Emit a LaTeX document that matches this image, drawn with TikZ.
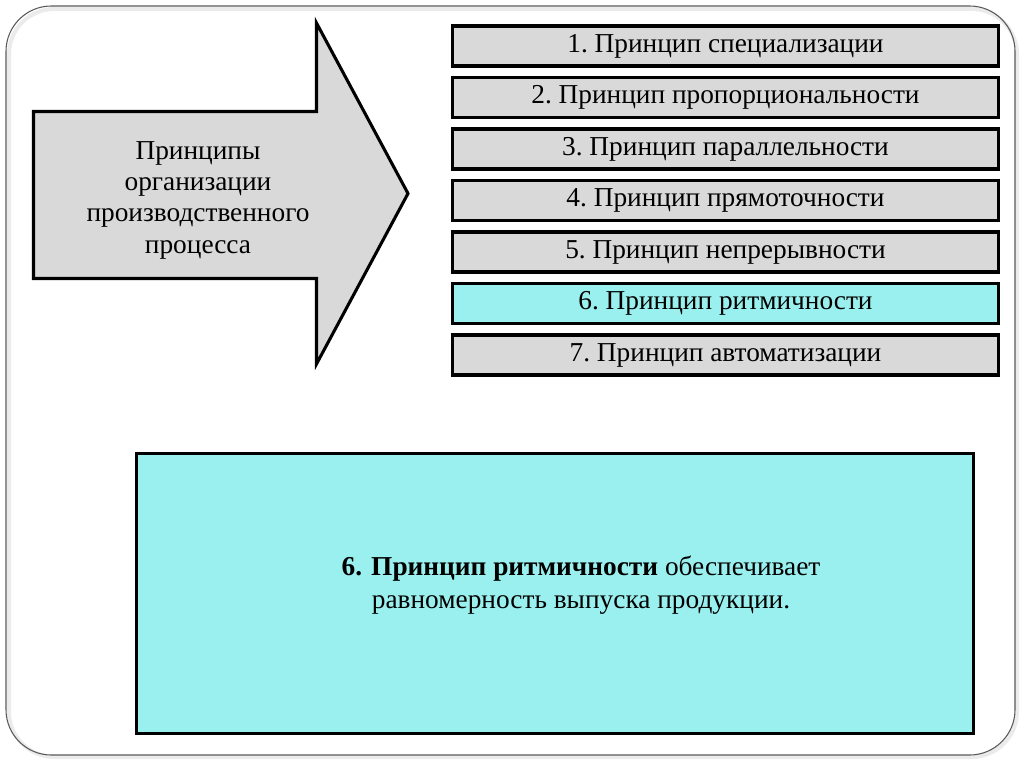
\documentclass[tikz,border=0pt]{standalone}
\usepackage{fontspec}
\setmainfont{Liberation Serif}
\usetikzlibrary{positioning}
\definecolor{boxgray}{RGB}{217,217,217}
\definecolor{boxcyan}{RGB}{154,240,238}
\tikzset{principle/.style={draw=black, line width=2.3pt, fill=boxgray, minimum width=409.5pt, minimum height=30pt, inner sep=0pt, font=\fontsize{20.5}{24}\selectfont},
%the highlighted one
current/.style={principle, fill=boxcyan}}

\begin{document}
\begin{tikzpicture}[x=0.75pt,y=-0.75pt]

\useasboundingbox (0,0) rectangle (1024,767);

% slide frame
\draw[black!8, line width=3pt, rounded corners=34pt] (9,9) rectangle (1017,757);
\draw[black!65, line width=0.8pt, rounded corners=34pt] (6,6) rectangle (1015,755);

% big arrow
\coordinate (a0) at (33.5,111.5);
\coordinate (a1) at (316.5,111.5);
\coordinate (a2) at (316.5,23);
\coordinate (a3) at (408,193.5);
\coordinate (a4) at (316.5,364);
\coordinate (a5) at (316.5,278.5);
\coordinate (a6) at (33.5,278.5);
\draw[line width=2.3pt, fill=boxgray, line join=miter] (a0) -- (a1) -- (a2) -- (a3) -- (a4) -- (a5) -- (a6) -- cycle;
\node[align=center, font=\fontsize{20.5}{23.5}\selectfont] (title) at (198,200)
  {Принципы\\организации\\производственного\\процесса};

% list of principles
\foreach \i/\txt in {1/специализации, 2/пропорциональности, 3/параллельности,
    4/прямоточности, 5/непрерывности, 7/автоматизации}
    \node[principle] (p\i) at (725.5,{46+51.5*(\i-1)}) {\i.~Принцип \txt};
\node[current] (p6) at (725.5,{46+51.5*5}) {6.~Принцип ритмичности};

% explanation
\node[draw=black, line width=2.3pt, fill=boxcyan, minimum width=627.75pt, minimum height=210pt] (note) at (555,593.5) {};
\node[align=center, font=\fontsize{20.5}{24.75}\selectfont] (notetext) at (581,585)
  {\textbf{6. Принцип ритмичности} обеспечивает\\равномерность выпуска продукции.};

\end{tikzpicture}
\end{document}
